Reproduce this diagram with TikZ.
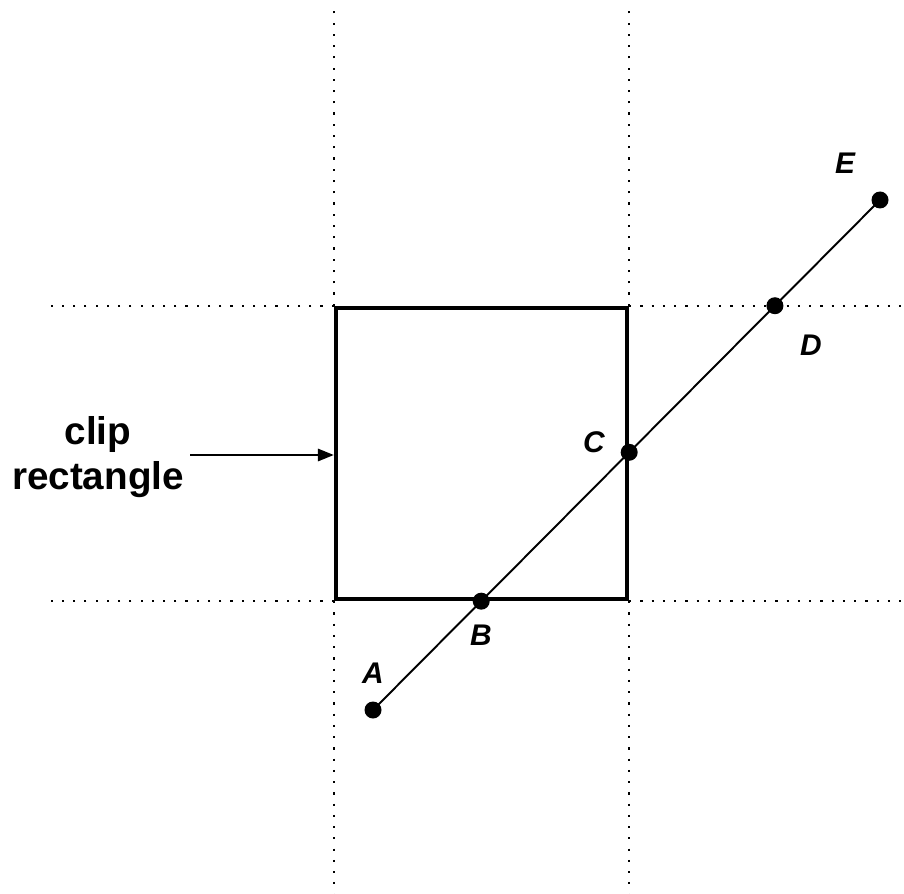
\documentclass[tikz,border=0pt]{standalone}
\usepackage{fontspec}
\setmainfont{Liberation Sans}
\usetikzlibrary{arrows.meta}

\tikzset{
  guide/.style={line width=1.2pt, dash pattern=on 1.2pt off 5.2pt, black},
  clipbox/.style={draw, line width=2.5pt, minimum width=5.82cm, minimum height=5.82cm, inner sep=0pt},
  dot/.style={circle, fill=black, minimum size=0.34cm, inner sep=0pt},
  lbl/.style={font=\fontsize{17}{20}\selectfont\bfseries\itshape}
}

\begin{document}
\begin{tikzpicture}
    \useasboundingbox (0,0) rectangle (18.08,17.86);

    % Clip rectangle
    \node[clipbox] (win) at (9.63,8.79) {};

    % Extended edges
    \draw[guide] (win.north west) -- ++(0,5.96);
    \draw[guide] (win.south west) -- ++(0,-5.88);
    \draw[guide] (win.north east) -- ++(0,5.96);
    \draw[guide] (win.south east) -- ++(0,-5.88);
    \draw[guide] (win.north west) -- ++(-5.82,0);
    \draw[guide] (win.north east) -- ++(5.54,0);
    \draw[guide] (win.south west) -- ++(-5.82,0);
    \draw[guide] (win.south east) -- ++(5.54,0);

    % Line segment
    \coordinate (A) at (7.46,3.66);
    \coordinate (E) at (17.60,13.86);
    \coordinate (B) at (intersection of A--E and win.south west--win.south east);
    \coordinate (C) at (intersection of A--E and win.south east--win.north east);
    \coordinate (D) at (intersection of A--E and win.north west--win.north east);
    \draw[line width=1.1pt] (A) -- (E);
    \foreach \p in {A,B,C,D,E}
        \node[dot] (dot\p) at (\p) {};

    % Labels
    \node[lbl] (lA) at (7.46,4.40) {A};
    \node[lbl] (lB) at (9.62,5.16) {B};
    \node[lbl] (lC) at (11.88,9.02) {C};
    \node[lbl] (lD) at (16.22,10.96) {D};
    \node[lbl] (lE) at (16.90,14.60) {E};

    % Caption with arrow
    \node[font=\fontsize{22}{26}\selectfont\bfseries, align=center, inner sep=2pt] (cap) at (1.96,8.72) {clip\\rectangle};
    \draw[-{Stealth[length=9pt, width=7pt, inset=0pt]}, line width=1.1pt] (3.80,8.76) -- (win.west |- 0,8.76);
\end{tikzpicture}
\end{document}
